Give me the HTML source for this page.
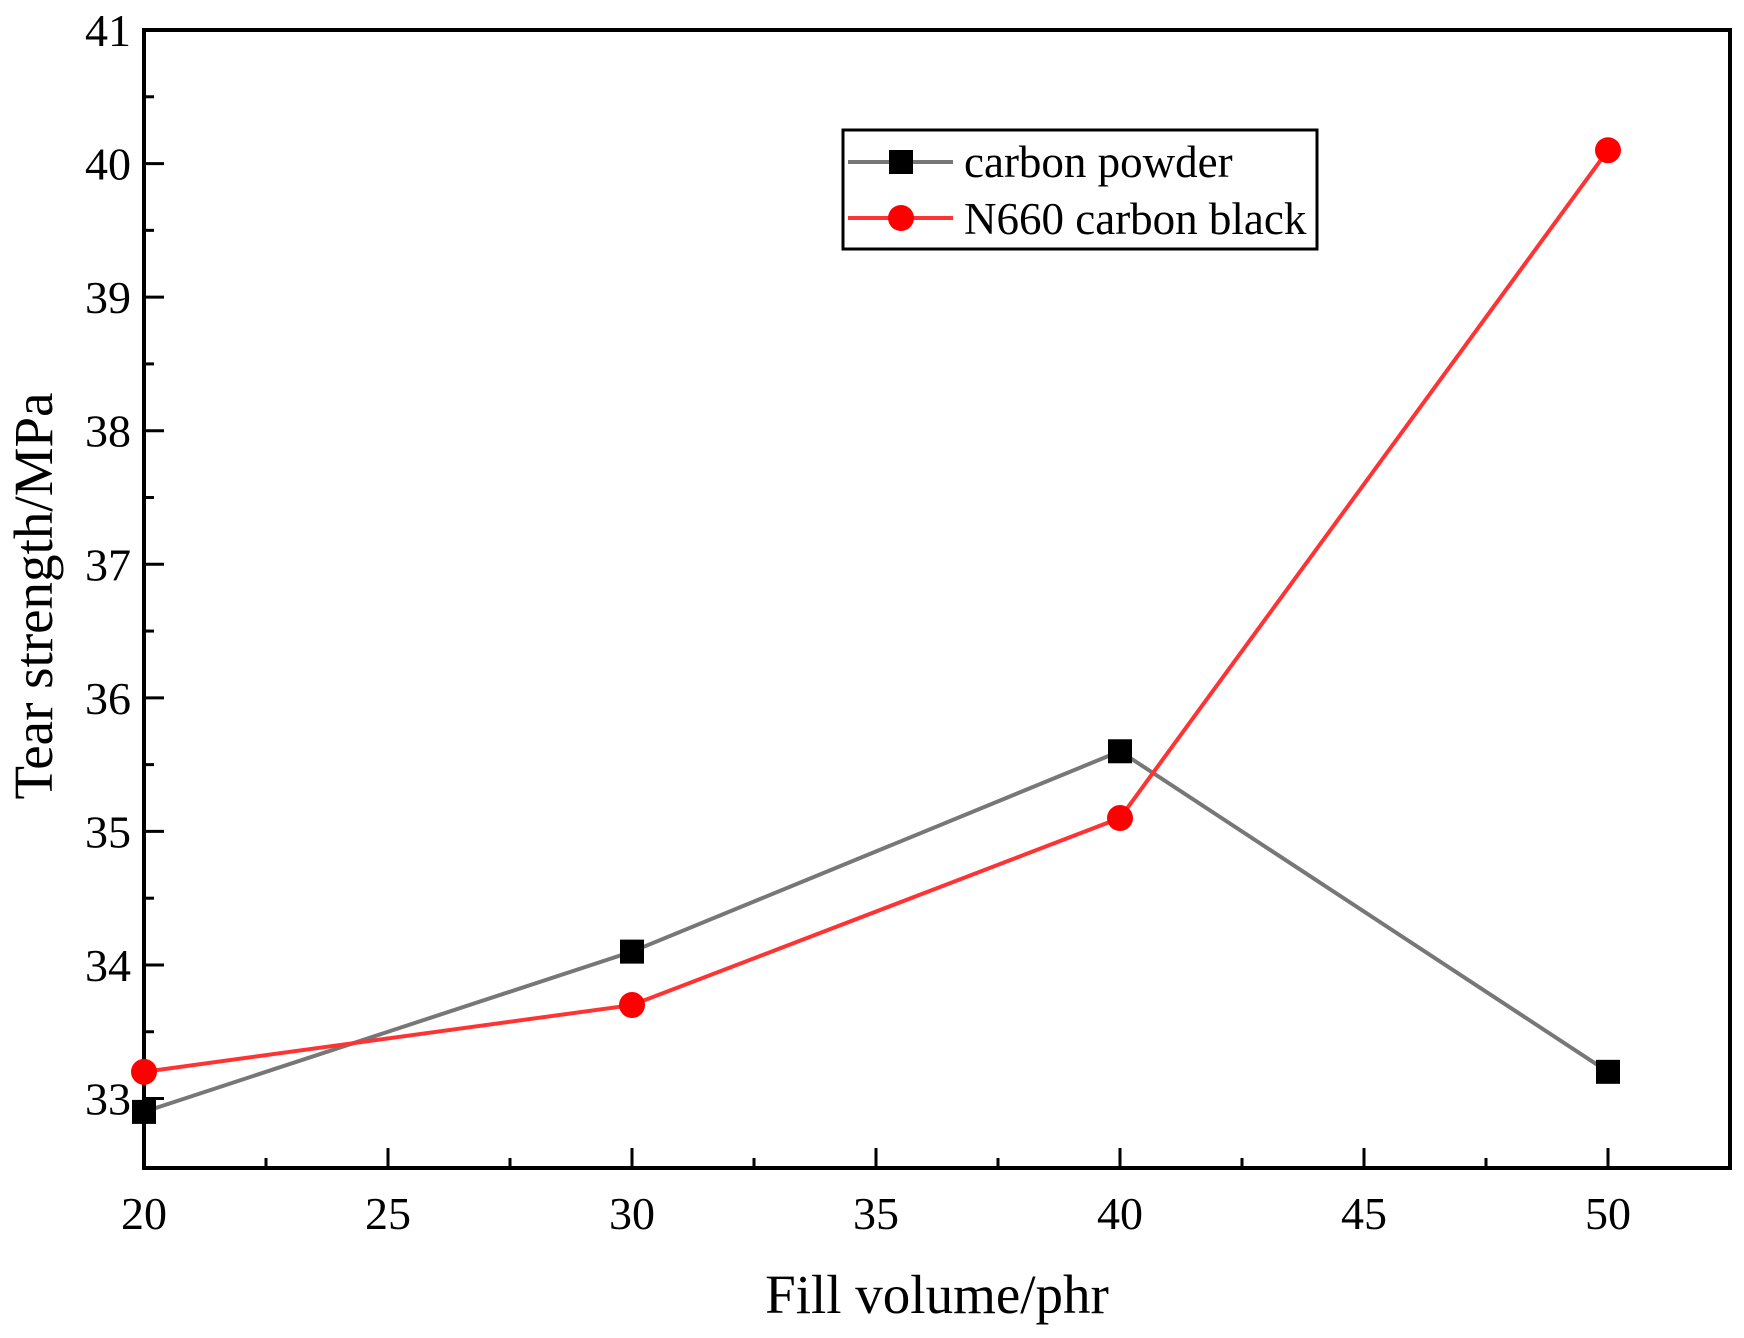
<!DOCTYPE html>
<html><head><meta charset="utf-8"><style>
html,body{margin:0;padding:0;background:#fff}
svg{display:block;font-family:"Liberation Serif",serif}
</style></head><body>
<svg id="chart" width="1744" height="1338" viewBox="0 0 1744 1338">
<g id="axes"></g>
<g id="series"></g>
<text x="937" y="1313" font-size="55" text-anchor="middle">Fill volume/phr</text>
<text transform="translate(52,596) rotate(-90)" font-size="55" text-anchor="middle">Tear strength/MPa</text>
<g>
<rect x="843" y="130" width="474" height="119" fill="#fff" stroke="#000" stroke-width="3"/>
<g>
<line x1="848" y1="162" x2="953" y2="162" stroke="#777" stroke-width="4"/>
<rect x="889" y="150" width="24" height="24" fill="#000"/>
<text x="964" y="177" font-size="45">carbon powder</text></g>
<g>
<line x1="848" y1="218" x2="953" y2="218" stroke="#f33" stroke-width="4"/>
<circle cx="901" cy="218" r="13" fill="#f00"/>
<text x="964" y="234" font-size="45">N660 carbon black</text></g>
</g>
</svg>
<script>
const categories=[20,30,40,50];
const carbonPowder=[32.9,34.1,35.6,33.2];
const n660=[33.2,33.7,35.1,40.1];
const xTicks=[20,25,30,35,40,45,50];
const yTicks=[33,34,35,36,37,38,39,40,41];
const L=144,R=1730,T=30,B=1168,xmin=20,xmax=52.5,ymin=32.48,ymax=41;
const xs=v=>L+(v-xmin)/(xmax-xmin)*(R-L);
const ys=v=>B-(v-ymin)/(ymax-ymin)*(B-T);
const NS="http://www.w3.org/2000/svg";
function mk(tag,attrs,parent){const e=document.createElementNS(NS,tag);for(const k in attrs)e.setAttribute(k,attrs[k]);parent.appendChild(e);return e;}
const ax=document.getElementById('axes');
xTicks.forEach(t=>{
 const ln=mk('line',{x1:xs(t),x2:xs(t),y1:B,y2:B-20,stroke:'#000','stroke-width':3},ax);
 
 
 const m=t+2.5; if(xs(m)<R-5){const mn=mk('line',{x1:xs(m),x2:xs(m),y1:B,y2:B-10,stroke:'#000','stroke-width':3},ax);
 
 }
 const tx=mk('text',{x:xs(t),y:1229,'font-size':46,'text-anchor':'middle'},ax);tx.textContent=t;
 
 
});
yTicks.forEach(t=>{
 const ln=mk('line',{x1:L,x2:L+20,y1:ys(t),y2:ys(t),stroke:'#000','stroke-width':3},ax);
 
 
 const m=t-0.5; if(ys(m)<B-5){const mn=mk('line',{x1:L,x2:L+10,y1:ys(m),y2:ys(m),stroke:'#000','stroke-width':3},ax);
 
 }
 const tx=mk('text',{x:131,y:ys(t)+16,'font-size':46,'text-anchor':'end'},ax);tx.textContent=t;
 
 
});
const frame=mk('rect',{x:L,y:T,width:R-L,height:B-T,fill:'none',stroke:'#000','stroke-width':4},ax);


const sg=document.getElementById('series');
const pts=a=>a.map((v,i)=>xs(categories[i])+','+ys(v)).join(' ');
const l1=mk('polyline',{points:pts(carbonPowder),fill:'none',stroke:'#777','stroke-width':4},sg);


const l2=mk('polyline',{points:pts(n660),fill:'none',stroke:'#f33','stroke-width':4},sg);


carbonPowder.forEach((v,i)=>{const r=mk('rect',{x:xs(categories[i])-12,y:ys(v)-12,width:24,height:24,fill:'#000'},sg);
 
 });
n660.forEach((v,i)=>{const c=mk('circle',{cx:xs(categories[i]),cy:ys(v),r:13,fill:'#f00'},sg);
 
 });
</script>
</body></html>
